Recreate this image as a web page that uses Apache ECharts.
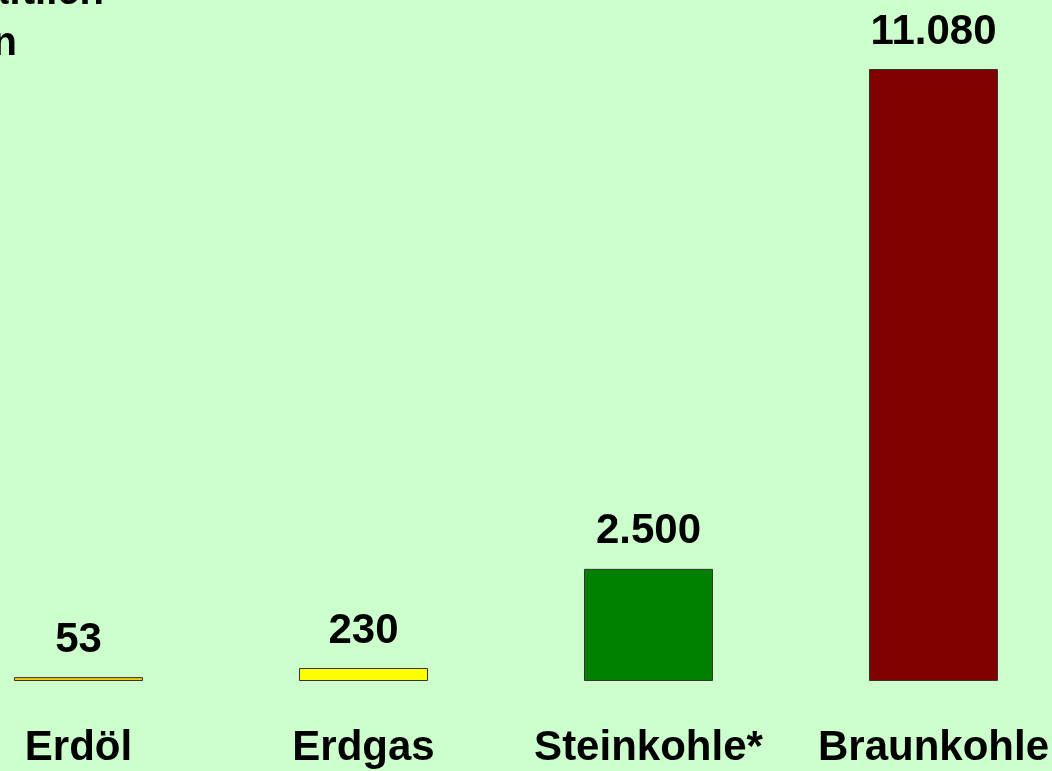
<!DOCTYPE html>
<html lang="de">
<head>
<meta charset="utf-8" />
<title>Reichweite</title>
<script src="https://cdn.jsdelivr.net/npm/echarts@6/dist/echarts.min.js"></script>
<style>
  html, body { margin: 0; padding: 0; background: #ccffcc; }
  #chart { width: 1052px; height: 771px; }
</style>
</head>
<body>
<div id="chart"></div>
<script>
// Kategorien und Werte
var categories = ['Erdöl', 'Erdgas', 'Steinkohle*', 'Braunkohle'];
var barValues = [70, 235, 2030, 11080];
var valueLabels = ['53', '230', '2.500', '11.080'];
var barColors = ['#ffcc00', '#ffff00', '#008000', '#800000'];

var chart = echarts.init(document.getElementById('chart'));

var font = '"Liberation Sans", Arial, sans-serif';

chart.setOption({
  backgroundColor: '#ccffcc',
  animation: false,
  grid: { left: 78.5, right: 118.5, top: 69, bottom: 90 },
  xAxis: {
    type: 'category',
    data: categories,
    boundaryGap: false,
    axisLine: { show: false },
    axisTick: { show: false },
    axisLabel: {
      interval: 0,
      margin: 46,
      color: '#000',
      fontFamily: font,
      fontWeight: 'bold',
      fontSize: 42
    }
  },
  yAxis: {
    type: 'value',
    min: 0,
    max: 11080,
    show: false
  },
  series: [{
    type: 'bar',
    barWidth: 129,
    data: barValues.map(function (v, i) {
      return {
        value: v,
        itemStyle: { color: barColors[i] },
        label: { formatter: valueLabels[i] }
      };
    }),
    itemStyle: { borderColor: '#333', borderWidth: 1 },
    label: {
      show: true,
      position: 'top',
      distance: 16,
      color: '#000',
      fontFamily: font,
      fontWeight: 'bold',
      fontSize: 42
    }
  }],
  graphic: [
    { type: 'text', style: { text: 'wirtschaftlich', x: 104, y: 13, align: 'right', verticalAlign: 'bottom',
      font: 'bold 40px ' + font, fill: '#000' } },
    { type: 'text', style: { text: 'in Jahren', x: 17, y: 64, align: 'right', verticalAlign: 'bottom',
      font: 'bold 40px ' + font, fill: '#000' } }
  ]
});

window.onresize = function () { chart.resize(); };
</script>
</body>
</html>
